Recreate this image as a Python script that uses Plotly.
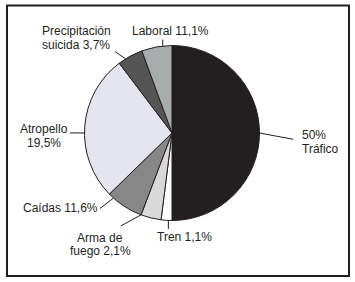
import math
import plotly.graph_objects as go

W, H = 355, 282

# Data (slice shares as drawn, clockwise from 12 o'clock)
categories = ["Tráfico", "Tren", "Arma de fuego", "Caídas", "Atropello",
              "Precipitación suicida", "Laboral"]
values = [50.0, 2.0, 3.75, 6.95, 27.0, 4.7, 5.6]
label_lines = [["50%", "Tráfico"], ["Tren 1,1%"], ["Arma de", "fuego 2,1%"],
               ["Caídas 11,6%"], ["Atropello", "19,5%"],
               ["Precipitación", "suicida 3,7%"], ["Laboral 11,1%"]]
colors = ["#231f20", "#ffffff", "#d9d9d9", "#878787", "#e5e5ef", "#555555", "#a8acac"]

# Layout of the pie (pixels)
CX, CY, R = 172.0, 133.0, 87.5
# where along each slice the leader line starts (0..1), leader end, text position
anchor_frac = [0.5, 0.33, 1.0, 0.85, 0.456, 0.3, 0.7]
leader_end = [(293.3, 139.3), (None, 229.0), (120.7, 226.0), (100.0, 208.5),
              (70.0, None), (115.0, 51.7), (None, 39.5)]
SP = 13.5
text_pos = [(301, 135.25, SP, "left"), (156, 237, SP, "left"), (100, 237.75, SP, "center"),
            (21.5, 208, SP, "left"), (43.5, 129, SP, "center"), (41, 31.2, SP, "left"),
            (130.5, 31, SP, "left")]

def px(x):
    return x / W

def py(y):
    return 1 - y / H

fig = go.Figure(go.Pie(
    labels=categories, values=values, sort=False, direction="clockwise",
    rotation=0, textinfo="none", hoverinfo="label",
    marker=dict(colors=colors, line=dict(color="#231f20", width=1)),
    domain=dict(x=[px(CX - R), px(CX + R)], y=[py(CY + R), py(CY - R)]),
    showlegend=False,
))

shapes = []
annotations = []
total = sum(values)
cum = 0.0
FONT = dict(family="Liberation Sans, Arial, sans-serif", size=12, color="#231f20")
for i, v in enumerate(values):
    start = cum
    cum += v
    frac = (start + anchor_frac[i] * v) / total
    ang = frac * 2 * math.pi
    sx = CX + R * math.sin(ang)
    sy = CY - R * math.cos(ang)
    ex, ey = leader_end[i]
    if ex is None:
        ex = sx
    if ey is None:
        ey = sy
    shapes.append(dict(type="line", xref="paper", yref="paper",
                       x0=px(sx), y0=py(sy), x1=px(ex), y1=py(ey),
                       line=dict(color="#231f20", width=1)))
    tx, ty, dy, anchor = text_pos[i]
    for j, line in enumerate(label_lines[i]):
        annotations.append(dict(
            text=line, xref="paper", yref="paper", x=px(tx), y=py(ty + j * dy),
            xanchor=anchor, yanchor="middle", showarrow=False, font=FONT,
            borderpad=0))

# outer frame
shapes.append(dict(type="rect", xref="paper", yref="paper",
                   x0=px(7), y0=py(276), x1=px(349), y1=py(5.5),
                   line=dict(color="#231f20", width=2)))

fig.update_layout(
    width=W, height=H, margin=dict(l=0, r=0, t=0, b=0),
    paper_bgcolor="white", plot_bgcolor="white",
    shapes=shapes, annotations=annotations,
)

fig.write_html("out.html", config={"displayModeBar": False},
               post_script="document.body.style.margin='0';document.body.style.overflow='hidden';")
